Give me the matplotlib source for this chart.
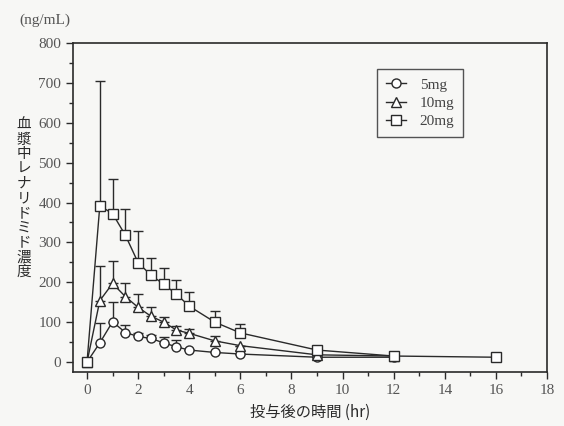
import numpy as np
import matplotlib.pyplot as plt
from matplotlib.ticker import MultipleLocator

t5 = [0, 0.5, 1, 1.5, 2, 2.5, 3, 3.5, 4, 5, 6, 9, 12]
c5 = [0, 48, 101, 74, 64, 59, 48, 38, 30, 24, 20, 12, 12]
e5 = [0, 97, 151, 93, 72, 69, 63, 55, 30, 24, 20, 12, 12]

t10 = [0, 0.5, 1, 1.5, 2, 2.5, 3, 3.5, 4, 5, 6, 9, 12]
c10 = [0, 154, 197, 164, 137, 115, 100, 80, 72, 53, 41, 18, 15]
e10 = [0, 240, 254, 197, 170, 139, 114, 90, 82, 66, 41, 18, 15]

t20 = [0, 0.5, 1, 1.5, 2, 2.5, 3, 3.5, 4, 5, 6, 9, 12, 16]
c20 = [0, 392, 372, 318, 249, 218, 195, 170, 140, 100, 73, 30, 15, 12]
e20 = [0, 705, 460, 383, 328, 262, 235, 206, 175, 128, 95, 30, 15, 12]

series = [("5mg", "o", t5, c5, e5), ("10mg", "^", t10, c10, e10), ("20mg", "s", t20, c20, e20)]

serif = ['Liberation Serif', 'DejaVu Serif']
jp = ['Noto Sans CJK JP', 'DejaVu Sans']
ink = '#2a2a2a'

fig = plt.figure(figsize=(5.64, 4.26), dpi=100)
fig.patch.set_facecolor('#f7f7f5')
ax = fig.add_axes([0.1294, 0.1268, 0.8405, 0.7722])
ax.set_facecolor('#f7f7f5')

for name, mk, t, c, e in series:
    c = np.array(c)
    up = np.array(e) - c
    ax.errorbar(t, c, yerr=[np.zeros_like(up), up], fmt='none', ecolor=ink,
                elinewidth=1.0, capsize=3.5, capthick=1.0, zorder=2)
    ax.plot(t, c, '-', color=ink, lw=1.0, marker=mk, ms=6.5 if mk != 's' else 7,
            mfc='white', mec=ink, mew=1.0, label=name, zorder=3)

ax.set_xlim(-0.55, 18)
ax.set_ylim(-25, 800)
ax.xaxis.set_major_locator(MultipleLocator(2))
ax.xaxis.set_minor_locator(MultipleLocator(1))
ax.yaxis.set_major_locator(MultipleLocator(100))
ax.yaxis.set_minor_locator(MultipleLocator(50))
ax.tick_params(which='major', direction='out', length=5, width=1, color=ink,
               labelsize=11, labelcolor='#555555')
ax.tick_params(which='minor', direction='out', length=3, width=1, color=ink)
for lab in ax.get_xticklabels() + ax.get_yticklabels():
    lab.set_family(serif)
for sp in ax.spines.values():
    sp.set_color(ink)
    sp.set_linewidth(1.2)

leg = ax.legend(loc='upper left', bbox_to_anchor=(0.625, 0.945), frameon=True,
                fancybox=False, edgecolor=ink, facecolor='#f7f7f5', handlelength=1.3,
                handletextpad=0.9, prop={'family': serif, 'size': 11}, borderpad=0.6,
                labelspacing=0.3)
leg.get_frame().set_linewidth(1.0)
for txt in leg.get_texts():
    txt.set_color('#444444')

fig.text(0.035, 0.952, '(ng/mL)', family=serif, fontsize=11, color='#555555', va='center')

# vertical label, one character per line
ylabel = '血漿中レナリドミド濃度'
for i, ch in enumerate(ylabel):
    fig.text(0.042, 1 - (125 + i * 14.7) / 426, ch, family=jp, fontsize=10.5,
             color=ink, ha='center', va='center')
fig.text(0.55, 0.032, '投与後の時間 (hr)', family=jp, fontsize=11, color=ink,
         ha='center', va='center')

fig.savefig('out.png', dpi=100, facecolor=fig.get_facecolor())
